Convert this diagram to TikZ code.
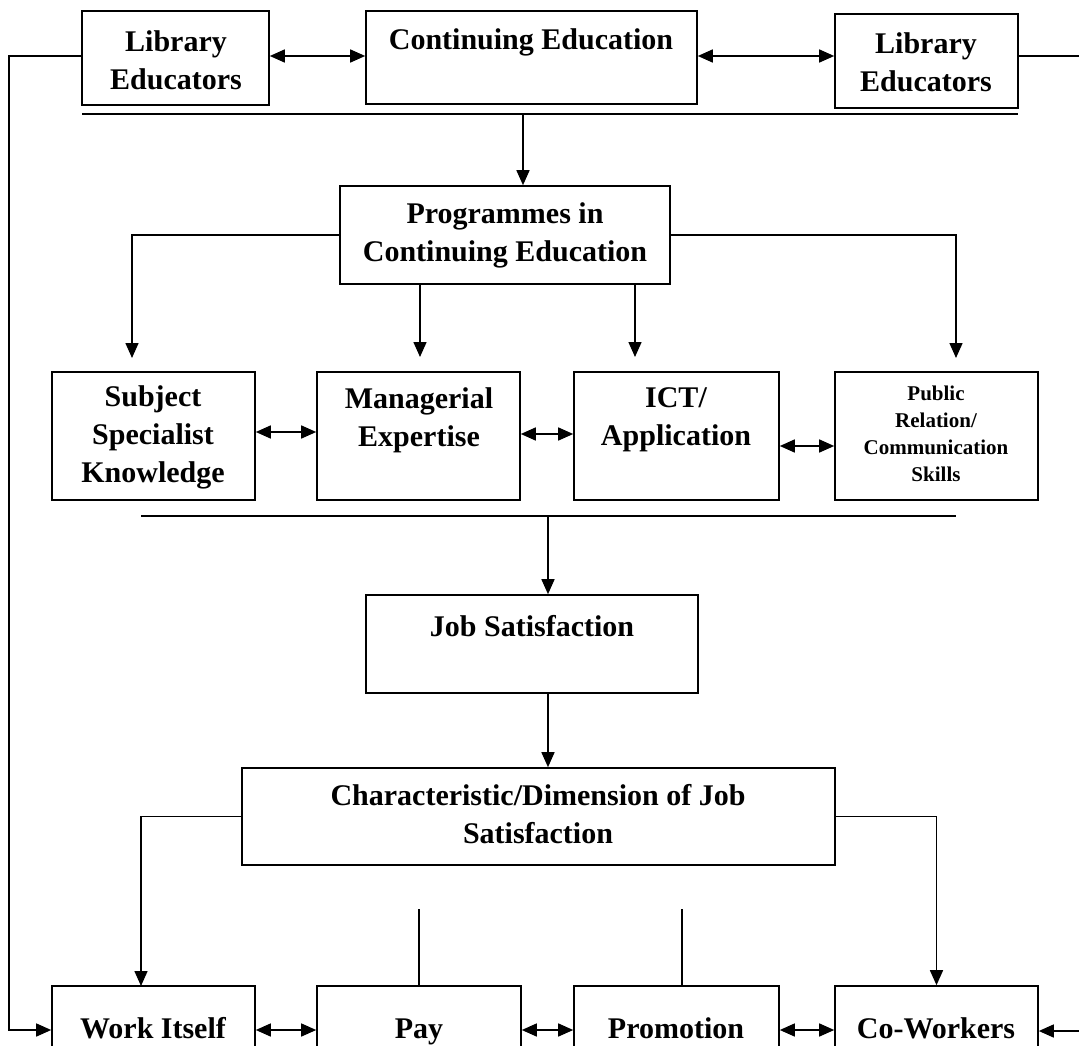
\documentclass[tikz,border=0pt]{standalone}
\usepackage{fontspec}
\setmainfont{Liberation Serif}
\usetikzlibrary{arrows.meta,calc,fit}
\begin{document}
\begin{tikzpicture}[x=1pt,y=-1pt,
  box/.style={draw, line width=1.6pt, inner sep=0pt},
  lbl/.style={font=\bfseries\fontsize{30}{38}\selectfont, align=center, inner sep=0pt},
  small/.style={font=\bfseries\fontsize{21}{27}\selectfont, align=center, inner sep=0pt},
  arr/.style={line width=1.5pt, -{Triangle[length=15pt,width=13pt]}},
  dbl/.style={line width=1.5pt, {Triangle[length=15pt,width=13pt]}-{Triangle[length=15pt,width=13pt]}},
  ln/.style={line width=1.5pt},
  rule/.style={line width=2pt}]
\useasboundingbox (0,0) rectangle (1079,1046);
\clip (0,0) rectangle (1079,1046);
% boxes
\node[box, fit={(82,11) (269,105)}] (le1) {};
\node[box, fit={(366,11) (697,104)}] (ce) {};
\node[box, fit={(835,14) (1018,108)}] (le2) {};
\node[box, fit={(340,186) (670,284)}] (prog) {};
\node[box, fit={(52,372) (255,500)}] (subj) {};
\node[box, fit={(317,372) (520,500)}] (man) {};
\node[box, fit={(574,372) (779,500)}] (ict) {};
\node[box, fit={(835,372) (1038,500)}] (pub) {};
\node[box, fit={(366,595) (698,693)}] (job) {};
\node[box, fit={(242,768) (835,865)}] (char) {};
\node[box, fit={(52,986) (255,1070)}] (work) {};
\node[box, fit={(317,986) (521,1070)}] (pay) {};
\node[box, fit={(574,986) (779,1070)}] (promo) {};
\node[box, fit={(835,986) (1038,1070)}] (co) {};
% labels
\node[lbl] (le1t) at (176,60) {Library\\Educators};
\node[lbl] (cet) at (531,42) {Continuing Education};
\node[lbl] (le2t) at (926,62) {Library\\Educators};
\node[lbl] (progt) at (505,235) {Programmes in\\Continuing Education};
\node[lbl] (subjt) at (153,437) {Subject\\Specialist\\Knowledge};
\node[lbl] (mant) at (419,420) {Managerial\\Expertise};
\node[lbl] (ictt) at (676,420) {ICT/\\Application};
\node[small] (pubt) at (936,434) {Public\\Relation/\\Communication\\Skills};
\node[lbl] (jobt) at (532,626) {Job Satisfaction};
\node[lbl] (chart) at (538,814) {Characteristic/Dimension of Job\\Satisfaction};
\node[lbl, anchor=base] (workt) at (153,1038) {Work Itself};
\node[lbl, anchor=base] (payt) at (419,1038) {Pay};
\node[lbl, anchor=base] (promot) at (676,1038) {Promotion};
\node[lbl, anchor=base] (cot) at (936,1038) {Co-Workers};
% rules
\coordinate (r1a) at (82,114);
\coordinate (r1b) at (1018,114);
\draw[rule] (r1a) -- (r1b);
\coordinate (r2a) at (141,516);
\coordinate (r2b) at (956,516);
\draw[rule] (r2a) -- (r2b);
% top row connectors
\coordinate (ty) at (0,56);
\draw[dbl] (le1.east |- ty) -- (ce.west |- ty);
\draw[dbl] (ce.east |- ty) -- (le2.west |- ty);
\coordinate (lcA) at (9,56);
\coordinate (lcB) at (9,1030);
\draw[arr] (le1.west |- lcA) -- (lcA) -- (lcB) -- (work.west |- lcB);
\coordinate (rcA) at (1092,56);
\coordinate (rcB) at (1092,1031);
\draw[arr] (le2.east |- rcA) -- (rcA) -- (rcB) -- (co.east |- rcB);
% CE -> programmes
\coordinate (c1) at (523,114);
\draw[arr] (c1) -- (c1 |- prog.north);
% programmes branches
\coordinate (pl) at (132,358);
\draw[arr] (prog.west) -| (pl);
\coordinate (pr) at (956,358);
\draw[arr] (prog.east) -| (pr);
\coordinate (pm1) at (420,357);
\draw[arr] (prog.south -| pm1) -- (pm1);
\coordinate (pm2) at (635,357);
\draw[arr] (prog.south -| pm2) -- (pm2);
% middle row
\coordinate (y1) at (0,432);
\draw[dbl] (subj.east |- y1) -- (man.west |- y1);
\coordinate (y2) at (0,434);
\draw[dbl] (man.east |- y2) -- (ict.west |- y2);
\coordinate (y3) at (0,446);
\draw[dbl] (ict.east |- y3) -- (pub.west |- y3);
% to job satisfaction
\coordinate (c2) at (548,516);
\draw[arr] (c2) -- (c2 |- job.north);
\draw[arr] (job.south -| c2) -- (char.north -| c2);
% characteristic branches
\coordinate (wl) at (141,986);
\draw[arr] (char.west) -| (wl);
\draw[arr] (char.east) -| (co.north);
\coordinate (pt) at (419,909);
\draw[ln] (pt) -- (pay.north -| pt);
\coordinate (mt) at (682,909);
\draw[ln] (mt) -- (promo.north -| mt);
% bottom row
\coordinate (y4) at (0,1030);
\draw[dbl] (work.east |- y4) -- (pay.west |- y4);
\draw[dbl] (pay.east |- y4) -- (promo.west |- y4);
\draw[dbl] (promo.east |- y4) -- (co.west |- y4);
\end{tikzpicture}
\end{document}
